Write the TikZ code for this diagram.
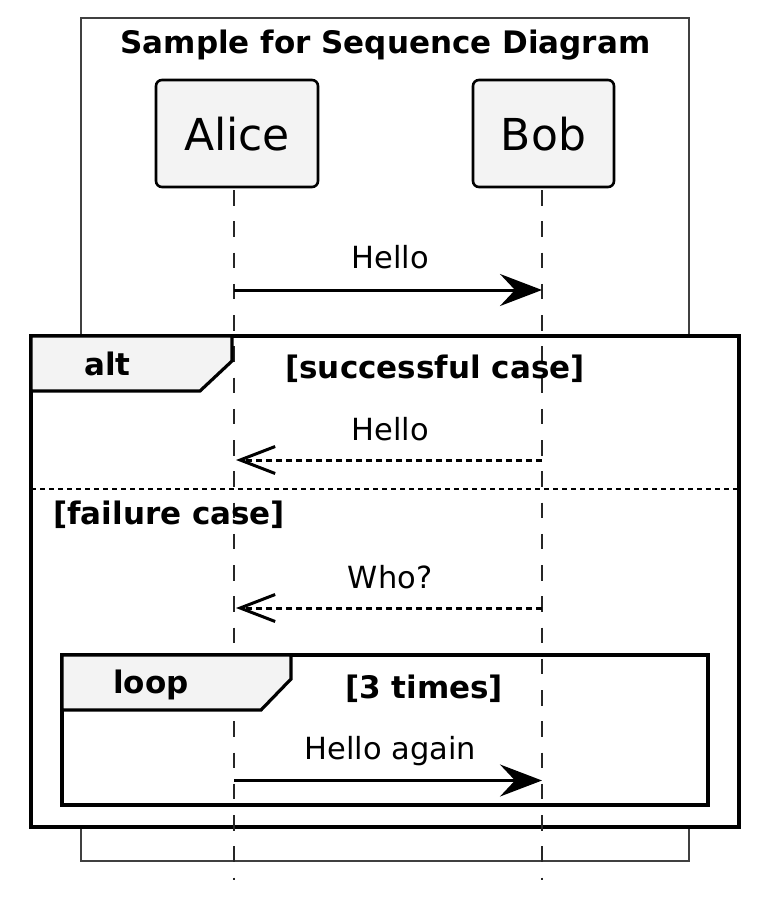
\documentclass[tikz,border=0pt]{standalone}
\usepackage{fontspec}
\setmainfont{DejaVu Sans}
\usetikzlibrary{arrows.meta}
\definecolor{tabgray}{HTML}{F3F3F3}
\begin{document}
\begin{tikzpicture}[x=1pt,y=-1pt,
  participant/.style={draw=black, line width=2.6pt, fill=tabgray, rounded corners=6pt,
    minimum height=107pt, inner sep=0pt, text height=33pt, text depth=0pt,
    font=\fontsize{44}{50}\selectfont},
  lifeline/.style={line width=1.2pt, draw=black!85, dash pattern=on 15.5pt off 15.75pt},
  outerframe/.style={line width=1.2pt, draw=black!75},
  groupframe/.style={line width=3.2pt, draw=black, line join=miter},
  grouptab/.style={line width=3.2pt, draw=black, fill=tabgray, line join=miter},
  separator/.style={line width=2.4pt, draw=black, dash pattern=on 5pt off 4pt},
  boldlabel/.style={inner sep=0pt, anchor=base, font=\fontsize{31}{36}\selectfont\bfseries},
  msglabel/.style={inner sep=0pt, anchor=base, font=\fontsize{30.5}{36}\selectfont},
  msg/.style={line width=3pt, -{Stealth[length=42pt,width=32pt,inset=15pt]}},
  reply/.style={line width=3pt, dash pattern=on 6pt off 4pt, -{Straight Barb[length=35pt,width=27pt]}}
]
\useasboundingbox[fill=white] (0,0) rectangle (758,899);

% outer frame and title
\draw[outerframe] (81,18) rectangle (689,861);
\node[boldlabel] (title) at (385.5,53) {Sample for Sequence Diagram};

% alt frame background
\draw[groupframe, fill=white] (31,336) rectangle (739,827);

% lifeline coordinates
\coordinate (atop) at (234,190);
\coordinate (abot) at (234,880);
\coordinate (btop) at (542,190);
\coordinate (bbot) at (542,880);
\draw[lifeline] (atop) -- (abot);
\draw[lifeline] (btop) -- (bbot);

% participants
\node[participant, minimum width=162pt] (alice) at (237,133.5) {Alice};
\node[participant, minimum width=141pt] (bob) at (543.5,133.5) {Bob};

% alt tab, separator, loop frame
\draw[grouptab] (31,336) -- (232,336) -- (232,361) -- (200,391) -- (31,391) -- cycle;
\coordinate (sepl) at (31,489);
\coordinate (sepr) at (739,489);
\draw[separator] (sepl) -- (sepr);
\draw[groupframe] (62,655) rectangle (708,805);
\draw[grouptab] (62,655) -- (291,655) -- (291,679) -- (261,710) -- (62,710) -- cycle;

% group labels
\node[boldlabel] (altlbl) at (107.5,375) {alt};
\node[boldlabel] (altcond) at (435,378) {[successful case]};
\node[boldlabel, anchor=base west] (failcond) at (53,524.5) {[failure case]};
\node[boldlabel] (looplbl) at (151,693) {loop};
\node[boldlabel] (loopcond) at (424,698) {[3 times]};

% message coordinates on lifelines
\coordinate (a1) at (234,290);
\coordinate (b1) at (542,290);
\coordinate (a2) at (236,460);
\coordinate (b2) at (542,460);
\coordinate (a3) at (236,608);
\coordinate (b3) at (542,608);
\coordinate (a4) at (234,780.5);
\coordinate (b4) at (542,780.5);

% messages
\draw[msg] (a1) -- (b1);
\node[msglabel] (m1) at (390,268.5) {Hello};
\draw[reply] (b2) -- (a2);
\node[msglabel] (m2) at (390,440.5) {Hello};
\draw[reply] (b3) -- (a3);
\node[msglabel] (m3) at (390,588.5) {Who?};
\draw[msg] (a4) -- (b4);
\node[msglabel] (m4) at (390.5,759.5) {Hello again};
\end{tikzpicture}
\end{document}
